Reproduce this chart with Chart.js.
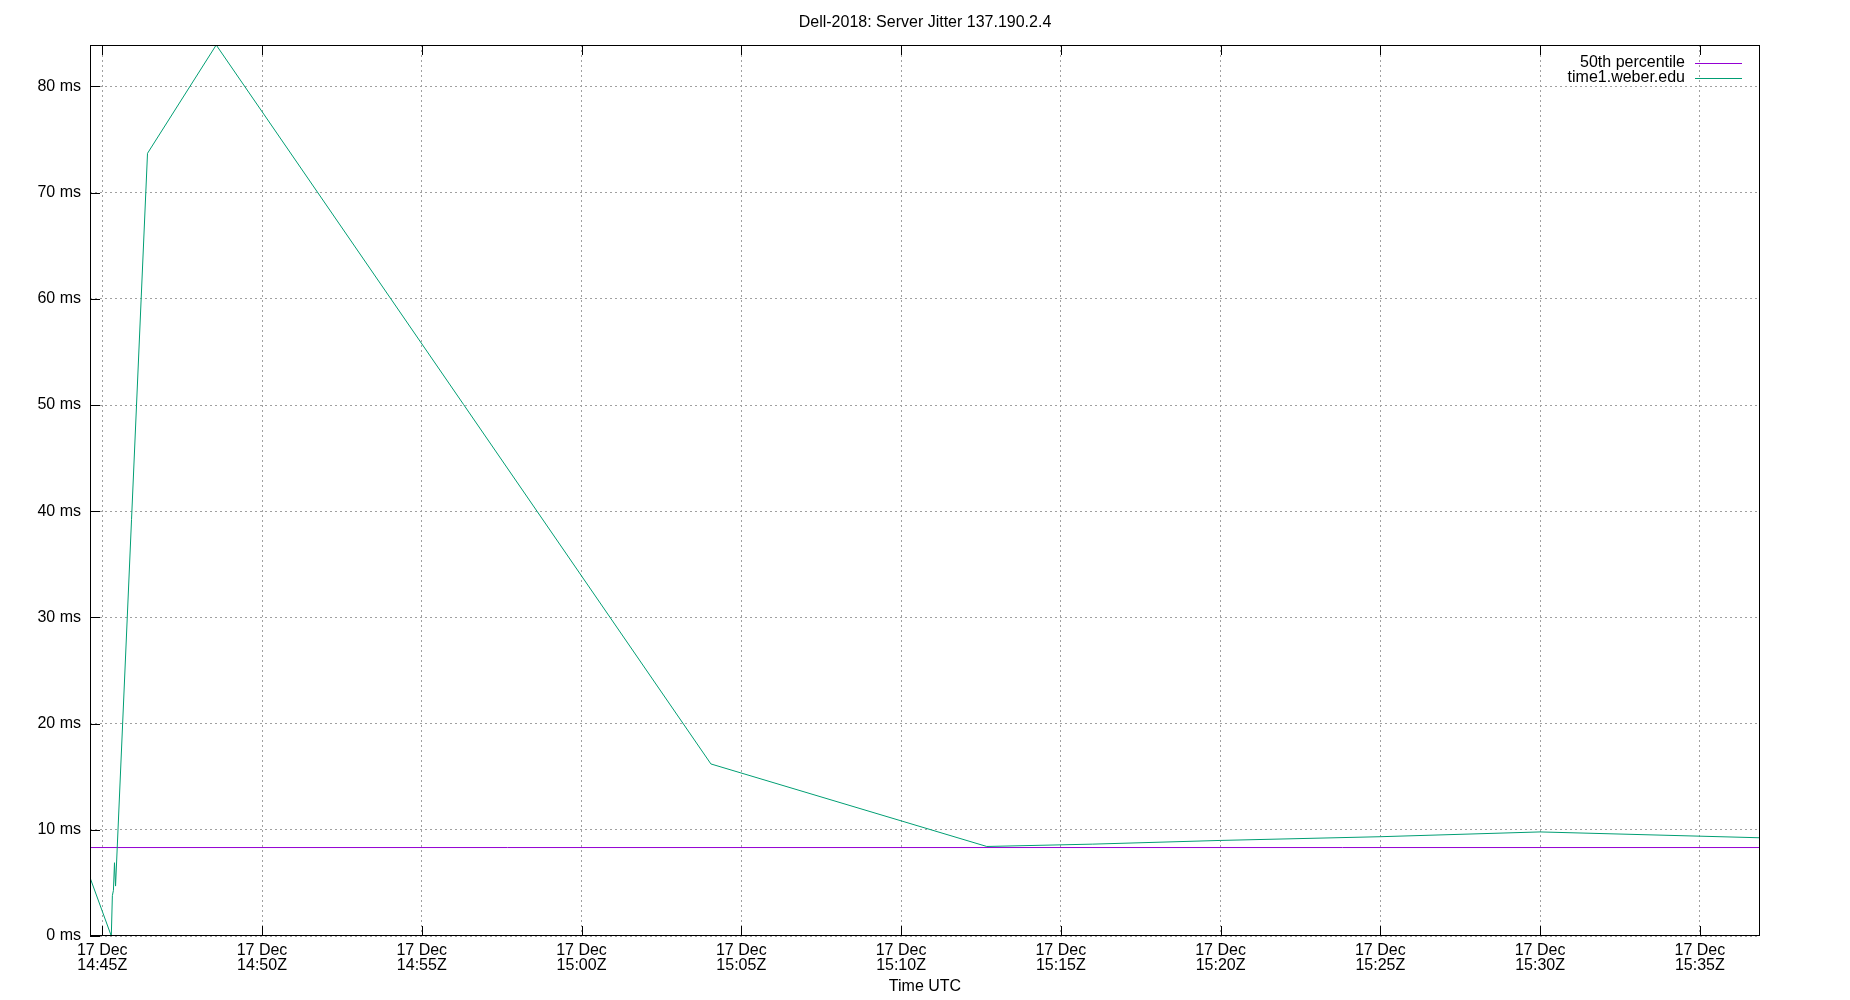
<!DOCTYPE html>
<html>
<head>
<meta charset="utf-8">
<title>Dell-2018: Server Jitter 137.190.2.4</title>
<script src="https://cdn.jsdelivr.net/npm/chart.js@4.4.1/dist/chart.umd.min.js"></script>
<style>
  html, body { margin: 0; padding: 0; background: #fff; }
  #wrap { width: 1850px; height: 1000px; }
</style>
</head>
<body>
<div id="wrap"><canvas id="jitter"></canvas></div>
<script>
// Данные
const jitterTimes = ['14:44:37', '14:45:17', '14:45:19', '14:45:21', '14:45:23', '14:45:25',
    '14:46:25', '14:48:34', '15:04:03', '15:12:41', '15:16:00', '15:20:00', '15:25:00',
    '15:30:00', '15:36:53'];
const jitterMs = [5.5, 0.0, 3.8, 4.3, 6.9, 4.7, 73.7, 83.9, 16.2, 8.43, 8.65, 9.0, 9.35, 9.8, 9.25];

const p50Times = ['14:44:37', '15:36:53'];
const p50Ms = [8.33, 8.33];

const xTicks = ['14:45', '14:50', '14:55', '15:00', '15:05', '15:10', '15:15',
    '15:20', '15:25', '15:30', '15:35'];
const yTicks = [0, 10, 20, 30, 40, 50, 60, 70, 80];
const dayLabel = '17 Dec';

const FONT = "'Liberation Sans', Arial, sans-serif";

// секунды от 14:45:00
function toSec(t) {
    const p = t.split(':').map(Number);
    return p[0] * 3600 + p[1] * 60 + (p[2] || 0) - (14 * 3600 + 45 * 60);
}

function fmtTime(sec) {
    const total = sec + 14 * 3600 + 45 * 60;
    const h = Math.floor(total / 3600);
    const m = Math.floor((total % 3600) / 60);
    return String(h).padStart(2, '0') + ':' + String(m).padStart(2, '0') + 'Z';
}

function points(times, values) {
    return times.map((t, i) => ({ x: toSec(t), y: values[i] }));
}

// Рамка, засечки внутрь и легенда в стиле gnuplot
const framePlugin = {
    id: 'frame',
    afterDraw(chart) {
        const { ctx, chartArea: a, scales: { x, y } } = chart;
        ctx.save();
        ctx.strokeStyle = '#000';
        ctx.lineWidth = 1;
        ctx.beginPath();
        x.ticks.forEach(t => {
            const px = Math.round(x.getPixelForValue(t.value)) + 0.5;
            ctx.moveTo(px, a.bottom);
            ctx.lineTo(px, a.bottom - 10);
            ctx.moveTo(px, a.top);
            ctx.lineTo(px, a.top + 10);
        });
        y.ticks.forEach(t => {
            const py = Math.round(y.getPixelForValue(t.value)) + 0.5;
            ctx.moveTo(a.left, py);
            ctx.lineTo(a.left + 10, py);
        });
        ctx.stroke();
        ctx.strokeRect(a.left + 0.5, a.top + 0.5, a.right - a.left - 1, a.bottom - a.top - 1);

        // легенда
        ctx.font = '16px ' + FONT;
        ctx.textAlign = 'right';
        ctx.textBaseline = 'alphabetic';
        chart.data.datasets.forEach((ds, i) => {
            const base = a.top + 22 + i * 15;
            ctx.fillStyle = '#000';
            ctx.fillText(ds.label, a.right - 75, base);
            ctx.strokeStyle = ds.borderColor;
            ctx.beginPath();
            ctx.moveTo(a.right - 65, base - 3.5);
            ctx.lineTo(a.right - 18, base - 3.5);
            ctx.stroke();
        });
        ctx.restore();
    }
};

const chart = new Chart(document.getElementById('jitter').getContext('2d'), {
    type: 'line',
    data: {
        datasets: [
            {
                label: '50th percentile',
                data: points(p50Times, p50Ms),
                borderColor: '#9400d3',
                borderWidth: 1,
                pointRadius: 0,
                order: 1
            },
            {
                label: 'time1.weber.edu',
                data: points(jitterTimes, jitterMs),
                borderColor: '#009e73',
                borderWidth: 1,
                pointRadius: 0,
                order: 0
            }
        ]
    },
    options: {
        responsive: true,
        maintainAspectRatio: false,
        devicePixelRatio: 1,
        animation: false,
        layout: { padding: 0 },
        elements: { line: { tension: 0 } },
        plugins: {
            legend: { display: false },
            tooltip: { enabled: false },
            title: {
                display: true,
                text: 'Dell-2018: Server Jitter 137.190.2.4',
                color: '#000',
                font: { family: FONT, size: 16, weight: 'normal', lineHeight: 1.2 },
                padding: { top: 13, bottom: 12.8 }
            }
        },
        scales: {
            x: {
                type: 'linear',
                min: -23,
                max: 3113,
                afterFit: s => { s.height = 64; },
                afterBuildTicks: s => { s.ticks = xTicks.map(t => ({ value: toSec(t) })); },
                grid: { color: '#a0a0a0', lineWidth: 1, drawTicks: false },
                border: { display: false, dash: [2, 3] },
                ticks: {
                    color: '#000',
                    font: { family: FONT, size: 16, lineHeight: 0.95 },
                    padding: 7,
                    maxRotation: 0,
                    autoSkip: false,
                    callback: v => [dayLabel, fmtTime(v)]
                },
                title: {
                    display: true,
                    text: 'Time UTC',
                    color: '#000',
                    font: { family: FONT, size: 16, lineHeight: 1.2 },
                    padding: { top: 0, bottom: 3.4 }
                }
            },
            y: {
                min: 0,
                max: 83.9,
                afterFit: s => { s.width = 90; },
                afterBuildTicks: s => { s.ticks = yTicks.map(v => ({ value: v })); },
                grid: { color: '#a0a0a0', lineWidth: 1, drawTicks: false },
                border: { display: false, dash: [2, 3] },
                ticks: {
                    color: '#000',
                    font: { family: FONT, size: 16 },
                    padding: 9,
                    callback: v => v + ' ms'
                }
            },
            // пустая правая ось, чтобы заголовок был по центру графика
            yRight: {
                position: 'right',
                min: 0,
                max: 83.9,
                afterFit: s => { s.width = 90; },
                grid: { display: false, drawTicks: false },
                border: { display: false },
                ticks: { display: false }
            }
        }
    },
    plugins: [framePlugin]
});
</script>
</body>
</html>
